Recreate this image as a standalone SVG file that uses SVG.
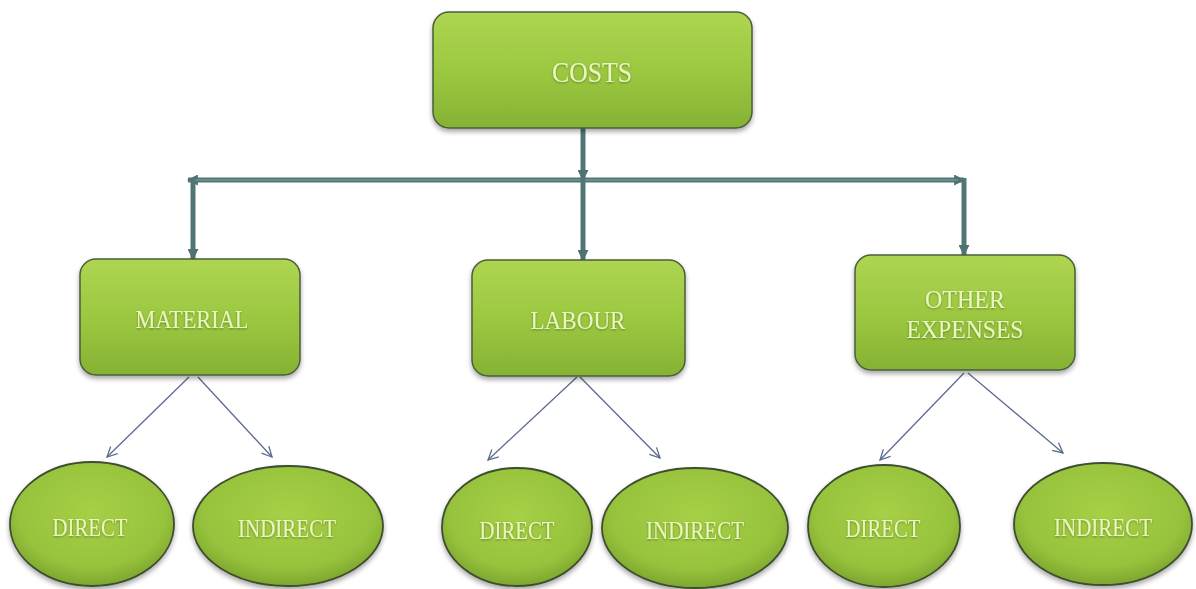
<svg xmlns="http://www.w3.org/2000/svg" width="1196" height="589" viewBox="0 0 1196 589">
<defs>
<linearGradient id="boxGrad" x1="0" y1="0" x2="0" y2="1">
<stop offset="0" stop-color="#aed551"/>
<stop offset="0.5" stop-color="#9cc841"/>
<stop offset="1" stop-color="#86b234"/>
</linearGradient>
<radialGradient id="ellGrad" cx="0.5" cy="0.4" r="0.6">
<stop offset="0" stop-color="#a6d046"/>
<stop offset="0.75" stop-color="#97c23c"/>
<stop offset="1" stop-color="#7da62e"/>
</radialGradient>
<filter id="shadow" x="-10%" y="-10%" width="120%" height="130%">
<feGaussianBlur in="SourceAlpha" stdDeviation="2.5"/>
<feOffset dx="0" dy="3" result="b"/>
<feComponentTransfer><feFuncA type="linear" slope="0.35"/></feComponentTransfer>
<feMerge><feMergeNode/><feMergeNode in="SourceGraphic"/></feMerge>
</filter>
<filter id="glow" x="-10%" y="-30%" width="120%" height="160%">
<feGaussianBlur in="SourceAlpha" stdDeviation="1.2"/>
<feOffset dx="0" dy="1"/>
<feComponentTransfer><feFuncA type="linear" slope="0.35"/></feComponentTransfer>
<feMerge><feMergeNode/><feMergeNode in="SourceGraphic"/></feMerge>
</filter>
<marker id="thick" viewBox="0 0 10 10" refX="9" refY="5" markerWidth="2.2" markerHeight="2.2" orient="auto" markerUnits="strokeWidth">
<path d="M0,0 L10,5 L0,10 z" fill="#4f7272"/>
</marker>
<marker id="thin" viewBox="0 0 12 12" refX="11" refY="6" markerWidth="12" markerHeight="12" orient="auto" markerUnits="userSpaceOnUse">
<path d="M1,1 L11,6 L1,11" fill="none" stroke="#5b6c8c" stroke-width="1.3"/>
</marker>
</defs>
<style>
.box{fill:url(#boxGrad);stroke:#4b5d3c;stroke-width:1.5;filter:url(#shadow);}
.ell{fill:url(#ellGrad);stroke:#3e4d30;stroke-width:1.8;filter:url(#shadow);}
.lbl{font-family:"Liberation Serif","Times New Roman",serif;fill:#e9f6bd;text-anchor:middle;filter:url(#glow);}
.thick{fill:none;stroke:#527676;stroke-width:5;}
.thickhi{fill:none;stroke:#7ca5a3;stroke-width:1.2;}
.thin{fill:none;stroke:#5b6c8c;stroke-width:1.3;marker-end:url(#thin);}
</style>
<rect width="1196" height="589" fill="#ffffff"/>
<g id="connectors">
<line class="thick" x1="583" y1="128" x2="583" y2="180" marker-end="url(#thick)"/>
<line class="thick" x1="583" y1="180" x2="188" y2="180" marker-end="url(#thick)"/>
<line class="thick" x1="583" y1="180" x2="964" y2="180" marker-end="url(#thick)"/>
<line class="thickhi" x1="195" y1="180" x2="958" y2="180"/>
<line class="thick" x1="193" y1="178" x2="193" y2="259" marker-end="url(#thick)"/>
<line class="thick" x1="583" y1="178" x2="583" y2="260" marker-end="url(#thick)"/>
<line class="thick" x1="964" y1="178" x2="964" y2="255" marker-end="url(#thick)"/>
<line class="thin" x1="189" y1="377" x2="107" y2="457"/>
<line class="thin" x1="198" y1="377" x2="272" y2="457"/>
<line class="thin" x1="577" y1="377" x2="488" y2="460"/>
<line class="thin" x1="580" y1="377" x2="660" y2="458"/>
<line class="thin" x1="964" y1="373" x2="880" y2="460"/>
<line class="thin" x1="968" y1="373" x2="1063" y2="453"/>
</g>
<g id="costs">
<rect class="box" x="433" y="12" width="319" height="116" rx="16"/>
<text class="lbl" x="592" y="82" font-size="29" textLength="80" lengthAdjust="spacingAndGlyphs">COSTS</text>
</g>
<g id="material">
<rect class="box" x="80" y="259" width="220" height="116" rx="16"/>
<text class="lbl" x="192" y="328" font-size="26" textLength="113" lengthAdjust="spacingAndGlyphs">MATERIAL</text>
</g>
<g id="labour">
<rect class="box" x="472" y="260" width="213" height="116" rx="16"/>
<text class="lbl" x="578" y="329" font-size="26" textLength="95" lengthAdjust="spacingAndGlyphs">LABOUR</text>
</g>
<g id="other">
<rect class="box" x="855" y="255" width="220" height="115" rx="16"/>
<text class="lbl" x="965" y="308" font-size="26" textLength="80" lengthAdjust="spacingAndGlyphs">OTHER</text>
<text class="lbl" x="965" y="338" font-size="26" textLength="117" lengthAdjust="spacingAndGlyphs">EXPENSES</text>
</g>
<g id="mat-direct">
<ellipse class="ell" cx="92" cy="524" rx="82" ry="62"/>
<text class="lbl" x="90" y="536" font-size="26" textLength="75" lengthAdjust="spacingAndGlyphs">DIRECT</text>
</g>
<g id="mat-indirect">
<ellipse class="ell" cx="288" cy="526" rx="95" ry="60"/>
<text class="lbl" x="287" y="537" font-size="26" textLength="98" lengthAdjust="spacingAndGlyphs">INDIRECT</text>
</g>
<g id="lab-direct">
<ellipse class="ell" cx="517" cy="527" rx="75" ry="59"/>
<text class="lbl" x="517" y="539" font-size="26" textLength="75" lengthAdjust="spacingAndGlyphs">DIRECT</text>
</g>
<g id="lab-indirect">
<ellipse class="ell" cx="695" cy="528" rx="93" ry="60"/>
<text class="lbl" x="695" y="539" font-size="26" textLength="98" lengthAdjust="spacingAndGlyphs">INDIRECT</text>
</g>
<g id="oth-direct">
<ellipse class="ell" cx="884" cy="526" rx="76" ry="61"/>
<text class="lbl" x="883" y="537" font-size="26" textLength="75" lengthAdjust="spacingAndGlyphs">DIRECT</text>
</g>
<g id="oth-indirect">
<ellipse class="ell" cx="1103" cy="524" rx="89" ry="61"/>
<text class="lbl" x="1103" y="536" font-size="26" textLength="98" lengthAdjust="spacingAndGlyphs">INDIRECT</text>
</g>
</svg>
